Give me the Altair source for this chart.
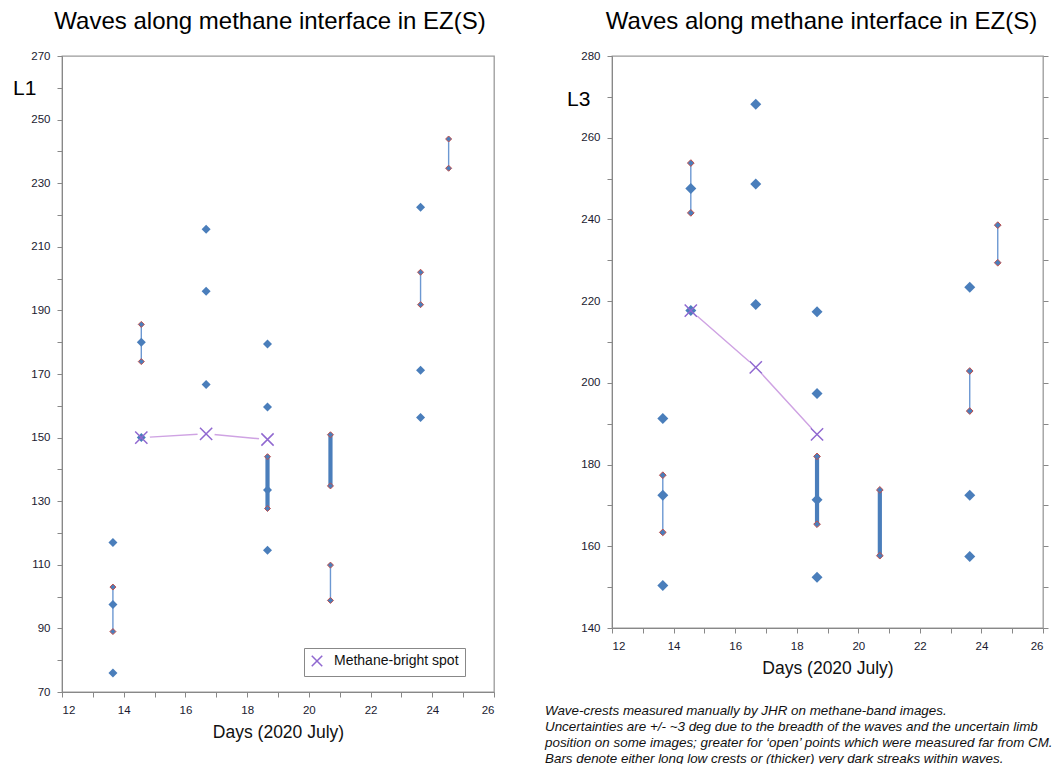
import altair as alt
import pandas as pd

# ---------------- data: panel L1 ----------------
l1_main_day = [13.65, 13.65, 13.65, 14.57, 14.57, 16.67, 16.67, 16.67,
               18.66, 18.66, 18.66, 18.66, 23.62, 23.62, 23.62]
l1_main_val = [117, 97.5, 76, 180, 150, 215.5, 196, 166.7,
               179.4, 159.6, 133.5, 114.6, 222.4, 171.2, 156.3]
l1_open_day = [13.65, 13.65, 14.57, 14.57, 18.66, 18.66, 20.7, 20.7, 20.7, 20.7,
               23.62, 23.62, 24.53, 24.53]
l1_open_val = [103, 89, 185.6, 173.9, 144, 127.7, 150.9, 134.8, 109.9, 98.8,
               202, 191.8, 243.9, 234.7]
l1_bar_day = [13.65, 14.57, 18.66, 20.7, 20.7, 23.62, 24.53]
l1_bar_lo = [89, 173.9, 127.7, 134.8, 98.8, 191.8, 234.7]
l1_bar_hi = [103, 185.6, 144, 150.9, 109.9, 202, 243.9]
l1_bar_kind = ["thin", "thin", "thick", "thick", "thin", "thin", "thin"]
l1_spot_day = [14.57, 16.67, 18.66]
l1_spot_val = [150, 151.2, 149.4]

# ---------------- data: panel L3 ----------------
l3_main_day = [13.65, 13.65, 13.65, 14.56, 14.56, 16.67, 16.67, 16.67,
               18.66, 18.66, 18.66, 18.66, 23.62, 23.62, 23.62]
l3_main_val = [191.3, 172.5, 150.4, 247.6, 217.7, 268.2, 248.7, 219.2,
               217.4, 197.4, 171.4, 152.4, 223.4, 172.5, 157.5]
l3_open_day = [13.65, 13.65, 14.56, 14.56, 18.66, 18.66, 20.7, 20.7,
               23.62, 23.62, 24.53, 24.53]
l3_open_val = [177.4, 163.4, 253.8, 241.6, 182, 165.4, 173.8, 157.7,
               202.9, 193.1, 238.6, 229.4]
l3_bar_day = [13.65, 14.56, 18.66, 20.7, 23.62, 24.53]
l3_bar_lo = [163.4, 241.6, 165.4, 157.7, 193.1, 229.4]
l3_bar_hi = [177.4, 253.8, 182, 173.8, 202.9, 238.6]
l3_bar_kind = ["thin", "thin", "thick", "thick", "thin", "thin"]
l3_spot_day = [14.56, 16.67, 18.66]
l3_spot_val = [217.7, 203.8, 187.4]

title_text = "Waves along methane interface in EZ(S)"
x_title = "Days (2020 July)"
legend_label = "Methane-bright spot"
notes = [
    "Wave-crests measured manually by JHR on methane-band images.",
    "Uncertainties are +/- ~3 deg due to the breadth of the waves and the uncertain limb",
    "position on some images; greater for \u2018open\u2019 points which were measured far from CM.",
    "Bars denote either long low crests or (thicker) very dark streaks within waves.",
]
x_ticks = list(range(12, 27))

BLUE = "#4a7ebb"
THINBLUE = "#6c98d2"
RED = "#c0504d"
PURPLE = "#9068d0"
LAVENDER = "#cfa3e3"
XPATH = "M-1,-1L1,1M1,-1L-1,1"
FONT = "Liberation Sans"


def panel(main_day, main_val, open_day, open_val, bar_day, bar_lo, bar_hi, bar_kind,
          spot_day, spot_val, ymin, ymax, width, height, tag, tag_x, tag_y,
          big, small, with_legend, right_ticks, title_dx, extra=None):
    df_main = pd.DataFrame({"day": main_day, "val": main_val})
    df_open = pd.DataFrame({"day": open_day, "val": open_val})
    df_bar = pd.DataFrame({"day": bar_day, "lo": bar_lo, "hi": bar_hi, "kind": bar_kind})
    df_spot = pd.DataFrame({"day": spot_day, "val": spot_val, "label": [legend_label] * len(spot_day)})
    df_tag = pd.DataFrame({"t": [tag]})

    xs = alt.Scale(domain=[12, 26], nice=False, zero=False)
    ys = alt.Scale(domain=[ymin, ymax], nice=False, zero=False)
    x_axis = alt.Axis(values=x_ticks, labelExpr="datum.value % 2 == 0 ? datum.label : ''",
                      title=x_title, grid=False)
    y_axis = alt.Axis(values=list(range(ymin, ymax + 1, 10)),
                      labelExpr=f"(datum.value - {ymin}) % 20 == 0 ? datum.label : ''",
                      title=None, grid=False)
    y_right = alt.Axis(values=list(range(ymin, ymax + 1, 10)), orient="right", labels=False,
                       title=None, grid=False, domain=False)

    X = alt.X("day:Q", scale=xs, axis=x_axis)

    def Y(field, role="other"):
        if right_ticks:
            ax = y_axis if role == "left" else (y_right if role == "right" else None)
        else:
            ax = y_axis
        return alt.Y(field, scale=ys, axis=ax)

    thin = alt.Chart(df_bar).transform_filter(alt.datum.kind == "thin").mark_rule(
        color=THINBLUE, strokeWidth=1.4).encode(x=X, y=Y("lo:Q", "left"), y2="hi:Q")
    thick = alt.Chart(df_bar).transform_filter(alt.datum.kind == "thick").mark_rule(
        color=BLUE, strokeWidth=4.2).encode(x=X, y=Y("lo:Q", "right"), y2="hi:Q")
    line = alt.Chart(df_spot).mark_line(color=LAVENDER, strokeWidth=1.4).encode(
        x=X, y=Y("val:Q"))
    gaps = alt.Chart(df_spot).mark_point(shape="circle", filled=True, fill="white", stroke="white",
                                         strokeWidth=0, size=300, opacity=1).encode(
        x=X, y=Y("val:Q"))
    main = alt.Chart(df_main).mark_point(shape="diamond", filled=True, color=BLUE, size=big, opacity=1).encode(
        x=X, y=Y("val:Q"))
    opn = alt.Chart(df_open).mark_point(shape="diamond", filled=True, fill=BLUE, stroke=RED,
                                        strokeWidth=1, size=small, opacity=1).encode(
        x=X, y=Y("val:Q"))
    if with_legend:
        col = alt.Color("label:N", scale=alt.Scale(domain=[legend_label], range=[PURPLE]),
                        legend=alt.Legend(title=None, orient="none", legendX=242, legendY=592,
                                          symbolType=XPATH, symbolSize=110, symbolStrokeWidth=1.5,
                                          symbolFillColor="transparent", symbolStrokeColor=PURPLE,
                                          labelFont=FONT, labelFontSize=14, labelColor="#111",
                                          strokeColor="#888", fillColor="white", padding=6,
                                          labelOffset=10))
    else:
        col = alt.value(PURPLE)
    spots = alt.Chart(df_spot).mark_point(shape=XPATH, filled=False, strokeWidth=1.5, size=150, opacity=1).encode(
        x=X, y=Y("val:Q"), color=col)
    tagm = alt.Chart(df_tag).mark_text(align="left", baseline="middle", font=FONT, fontSize=21, color="#000").encode(
        x=alt.value(tag_x), y=alt.value(tag_y), text="t:N")
    layers = [thin, thick, line, gaps, main, opn, spots, tagm]
    if extra is not None:
        layers.append(extra)
    ch = alt.layer(*layers).properties(
        width=width, height=height,
        title=alt.TitleParams(title_text, font=FONT, fontSize=24, fontWeight="normal", color="#000",
                              anchor="middle", frame="group", offset=16, dx=title_dx))
    if right_ticks:
        ch = ch.resolve_axis(y="independent")
    return ch


df_notes = pd.DataFrame({"t": ["\n".join(notes)]})
notes_mark = alt.Chart(df_notes).mark_text(align="left", baseline="top", font=FONT, fontSize=13.4,
                                           fontStyle="italic", color="#111", lineBreak="\n",
                                           lineHeight=16).encode(
    x=alt.value(-67), y=alt.value(648), text="t:N")

left = panel(l1_main_day, l1_main_val, l1_open_day, l1_open_val, l1_bar_day, l1_bar_lo, l1_bar_hi,
             l1_bar_kind, l1_spot_day, l1_spot_val, 70, 270, 432, 636, "L1", -49, 33,
             81, 36, True, False, -8)
right = panel(l3_main_day, l3_main_val, l3_open_day, l3_open_val, l3_bar_day, l3_bar_lo, l3_bar_hi,
              l3_bar_kind, l3_spot_day, l3_spot_val, 140, 280, 431, 572, "L3", -45, 44,
              121, 45, False, True, -6, extra=notes_mark)

chart = alt.hconcat(left, right, spacing=118, bounds="flush").resolve_scale(
    color="independent").resolve_legend(color="independent").configure(
    padding={"left": 12, "top": 9, "right": 0, "bottom": 0},
    background="white",
).configure_view(stroke="#9a9a9a", strokeWidth=1.3).configure_axis(
    domainColor="#888", tickColor="#888", tickSize=5, labelFont=FONT, labelFontSize=11.5,
    labelColor="#1a1a30", labelPadding=7, titleFont=FONT, titleFontSize=17.5,
    titleFontWeight="normal", titleColor="#111", titlePadding=8,
)

chart.save("out.html", embed_options={"renderer": "svg", "actions": False})
